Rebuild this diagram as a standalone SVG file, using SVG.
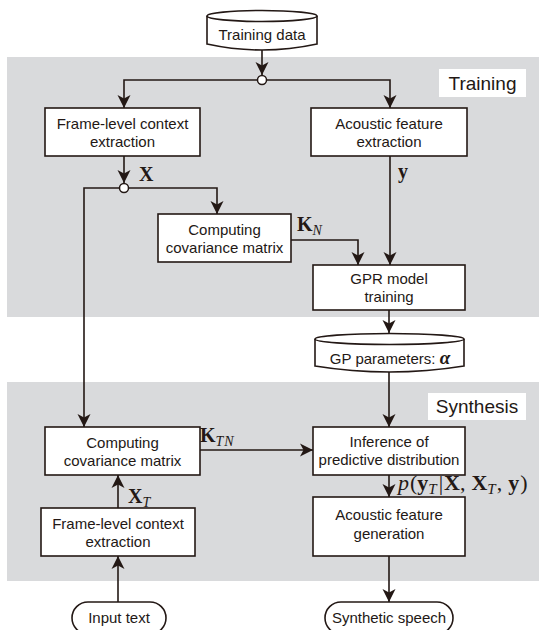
<svg xmlns="http://www.w3.org/2000/svg" width="539" height="630" viewBox="0 0 539 630">
<defs>
<marker id="ah" markerUnits="userSpaceOnUse" markerWidth="16" markerHeight="16" viewBox="-14 -8 16 16" refX="0" refY="0" orient="auto">
<path d="M0,0 L-13,-6.5 L-9.5,0 L-13,6.5 Z" fill="#231815"/>
</marker>
</defs>
<style>
.panel{fill:#d9dadc}
.box{fill:#fff;stroke:#231815;stroke-width:1.6}
.t{font-family:"Liberation Sans",Arial,sans-serif;font-size:15px;fill:#231815;text-anchor:middle}
.lbl{font-family:"Liberation Sans",Arial,sans-serif;font-size:19px;fill:#231815;text-anchor:middle}
.m{font-family:"Liberation Serif","Times New Roman",serif;font-size:20px;fill:#231815}
.b{font-weight:bold}
.i{font-style:italic}
.c{fill:none;stroke:#231815;stroke-width:1.6}
.a{marker-end:url(#ah)}
.j{fill:#fff;stroke:#231815;stroke-width:1.5}
</style>
<rect width="539" height="630" fill="#fff"/>
<rect class="panel" x="7" y="57" width="532" height="260"/>
<rect class="panel" x="7" y="382" width="532" height="199"/>
<g id="label-training">
<rect x="439" y="69" width="87" height="28" fill="#fff"/>
<text class="lbl" x="482.5" y="90">Training</text>
</g>
<g id="label-synthesis">
<rect x="428" y="393" width="98" height="27" fill="#fff"/>
<text class="lbl" x="477" y="413">Synthesis</text>
</g>
<g id="connectors">
<path class="c a" d="M262,50 V75"/>
<path class="c a" d="M262,80 H124 V108"/>
<path class="c a" d="M262,80 H390 V108"/>
<path class="c a" d="M124,156 V183"/>
<path class="c a" d="M124,188 H217 V214"/>
<path class="c a" d="M124,188 H84 V427"/>
<path class="c a" d="M291,240 H358 V265"/>
<path class="c a" d="M390,156 V265"/>
<path class="c a" d="M389,310 V333"/>
<path class="c a" d="M389,372 V427"/>
<path class="c a" d="M200,450 H313"/>
<path class="c a" d="M118,508 V475"/>
<path class="c a" d="M118,602 V556"/>
<path class="c a" d="M389,475 V497"/>
<path class="c a" d="M389,556 V602"/>
<circle class="j" cx="262" cy="80" r="4.5"/>
<circle class="j" cx="124" cy="188" r="4.5"/>
<text class="m b" x="139" y="181">X</text>
<text class="m b" x="398" y="178">y</text>
<text class="m" x="297" y="231"><tspan class="b">K</tspan><tspan class="i" font-size="14" dy="4">N</tspan></text>
<text class="m" x="200" y="442"><tspan class="b">K</tspan><tspan class="i" font-size="14" dy="4" letter-spacing="1">TN</tspan></text>
<text class="m" x="128" y="503"><tspan class="b">X</tspan><tspan class="i" font-size="14" dy="4">T</tspan></text>
<text class="m" x="398" y="490" style="font-size:22px"><tspan class="i">p</tspan><tspan dx="1">(</tspan><tspan class="b">y</tspan><tspan class="i" font-size="15" dy="4">T</tspan><tspan dy="-4" dx="2">|</tspan><tspan class="b" dx="1">X</tspan><tspan>,</tspan><tspan class="b" dx="6">X</tspan><tspan class="i" font-size="15" dy="4">T</tspan><tspan dy="-4" dx="1">,</tspan><tspan class="b" dx="6">y</tspan><tspan dx="1">)</tspan></text>
</g>
<g id="training-data">
<path class="box" d="M207,16 A55,5.5 0 0 1 317,16 V44 Q262,56 207,44 Z"/>
<path class="c" d="M207,16 A55,5.5 0 0 0 317,16"/>
<text class="t" x="262" y="40">Training data</text>
</g>
<g id="frame-context-train">
<rect class="box" x="45" y="108" width="155" height="48"/>
<text class="t" x="122.5" y="129">Frame-level context</text>
<text class="t" x="122.5" y="147">extraction</text>
</g>
<g id="acoustic-extraction">
<rect class="box" x="311" y="108" width="156" height="48"/>
<text class="t" x="389" y="129">Acoustic feature</text>
<text class="t" x="389" y="147">extraction</text>
</g>
<g id="cov-train">
<rect class="box" x="158" y="214" width="133" height="48"/>
<text class="t" x="224.5" y="235">Computing</text>
<text class="t" x="224.5" y="253">covariance matrix</text>
</g>
<g id="gpr-training">
<rect class="box" x="313" y="265" width="152" height="45"/>
<text class="t" x="389" y="284">GPR model</text>
<text class="t" x="389" y="302">training</text>
</g>
<g id="gp-params">
<path class="box" d="M315,339 A74.5,5.5 0 0 1 464,339 V366 Q389.5,378 315,366 Z"/>
<path class="c" d="M315,339 A74.5,5.5 0 0 0 464,339"/>
<text class="t" x="390" y="364">GP parameters: <tspan font-family="Liberation Serif,serif" font-weight="bold" font-style="italic" font-size="19">α</tspan></text>
</g>
<g id="cov-synth">
<rect class="box" x="45" y="427" width="155" height="48"/>
<text class="t" x="122.5" y="448">Computing</text>
<text class="t" x="122.5" y="466">covariance matrix</text>
</g>
<g id="inference">
<rect class="box" x="313" y="427" width="152" height="48"/>
<text class="t" x="389" y="447">Inference of</text>
<text class="t" x="389" y="465">predictive distribution</text>
</g>
<g id="frame-context-synth">
<rect class="box" x="41" y="508" width="154" height="48"/>
<text class="t" x="118" y="529">Frame-level context</text>
<text class="t" x="118" y="547">extraction</text>
</g>
<g id="acoustic-generation">
<rect class="box" x="313" y="497" width="152" height="59"/>
<text class="t" x="389" y="520">Acoustic feature</text>
<text class="t" x="389" y="539">generation</text>
</g>
<g id="input-text">
<rect class="box" x="72" y="602" width="94" height="32" rx="16"/>
<text class="t" x="119" y="623">Input text</text>
</g>
<g id="synthetic-speech">
<rect class="box" x="325" y="602" width="128" height="32" rx="16"/>
<text class="t" x="389" y="623">Synthetic speech</text>
</g>
</svg>
